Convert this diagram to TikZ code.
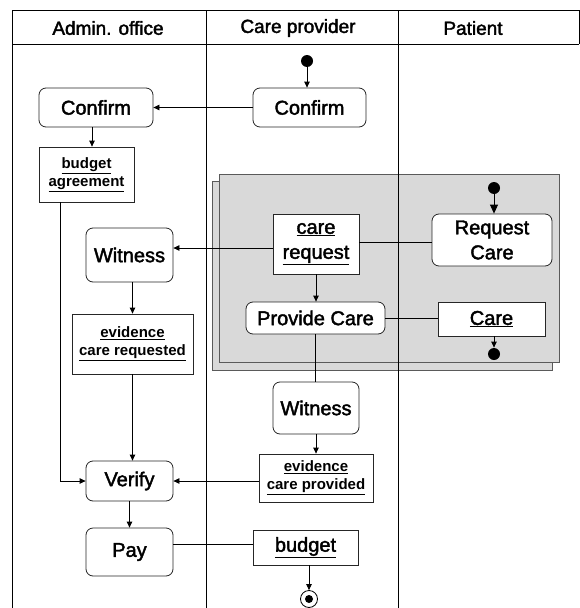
\documentclass[tikz,border=0pt]{standalone}
\usepackage{fontspec}
\setmainfont{Liberation Sans}
\newfontfamily\medfont{Liberation Sans}[FakeBold=2]
\usetikzlibrary{arrows.meta,calc}
\definecolor{regfill}{HTML}{D9D9D9}
\definecolor{regline}{HTML}{5A5A5A}
\begin{document}
\begin{tikzpicture}[x=1pt,y=-1pt, line width=0.8pt,
  act/.style={draw=black!85, rounded corners=7pt, fill=white, inner sep=0pt, align=center,
    font=\medfont\fontsize{20}{25}\selectfont},
  obj/.style={draw=black!85, fill=white, inner sep=0pt, align=center,
    font=\medfont\fontsize{20}{25}\selectfont},
  objs/.style={draw=black!85, fill=white, inner sep=0pt, align=center,
    font=\bfseries\fontsize{15}{18}\selectfont},
  arr/.style={-{Triangle[length=6pt,width=5.5pt]}},
  bigarr/.style={-{Triangle[length=9pt,width=8pt]}},
  hdr/.style={font=\medfont\fontsize{19}{22}\selectfont},
  dot/.style={circle, fill=black, minimum size=12pt, inner sep=0pt},
  region/.style={draw=regline, fill=regfill, line width=1pt},
  lane/.style={draw=black, line width=0.8pt},
]
\useasboundingbox (0,0) rectangle (580,608);
\fill[white] (0,0) rectangle (580,608);

% grey interruptible region
\draw[region] (212,181) rectangle (552,370);
\draw[region] (219,174) rectangle (559,362);

% swimlanes
\draw[lane] (12,612) -- (12,10) -- (579,10) -- (579,44);
\draw[lane] (12,44) -- (579,44);
\draw[lane] (206,10) -- (206,612);
\draw[lane] (398,10) -- (398,612);

\node[hdr] (h1) at (108,28) {Admin. office};
\node[hdr] (h2) at (298,28) {Care provider};
\node[hdr] (h3) at (473,28) {Patient};

% nodes
\node[dot] (s1) at (307,61) {};
\node[act, minimum width=113pt, minimum height=39pt] (cpc) at (309.5,107.5) {Confirm};
\node[act, minimum width=114pt, minimum height=39pt] (ac) at (96,107.5) {Confirm};
\node[objs, minimum width=95pt, minimum height=55pt] (ba) at (86.5,174.5) {\underline{budget}\\\underline{agreement}};
\node[act, minimum width=87pt, minimum height=54pt] (wa) at (129.5,255) {Witness};
\node[objs, minimum width=121pt, minimum height=60pt] (ecr) at (132.5,344) {\underline{evidence}\\\underline{care requested}};
\node[act, minimum width=87pt, minimum height=40pt] (ver) at (129.5,481) {Verify};
\node[act, minimum width=87pt, minimum height=48pt] (pay) at (129.5,552) {Pay};

\node[obj, minimum width=86pt, minimum height=60pt] (cr) at (316,244) {\underline{care}\\\underline{request}};
\node[act, minimum width=139pt, minimum height=32pt] (pc) at (315.5,318) {Provide Care};
\node[act, minimum width=120pt, minimum height=52pt] (rc) at (492,240) {Request\\Care};
\node[obj, minimum width=107pt, minimum height=34pt] (care) at (491.5,319) {\underline{Care}};
\node[dot] (s2) at (494,188) {};
\node[dot] (e2) at (494,354) {};

\node[act, minimum width=86pt, minimum height=52pt] (wc) at (316,408) {Witness};
\node[objs, minimum width=114pt, minimum height=48pt] (ecp) at (316,478) {\underline{evidence}\\\underline{care provided}};
\node[obj, minimum width=105pt, minimum height=35pt] (bud) at (305.5,547.5) {\underline{budget}};
\node[circle, draw, line width=0.8pt, minimum size=17pt, inner sep=0pt] (end) at (309,599) {};
\fill (end.center) circle (4pt);

% connectors
\draw[arr] (s1) -- (s1 |- cpc.north);
\draw[arr] (cpc.west) -- (ac.east);
\draw[arr] ([xshift=-4pt]ac.south) -- ([xshift=-4pt]ac.south |- ba.north);
\draw[arr] ([xshift=-26.5pt]ba.south) |- (ver.west);
\draw[arr] ([yshift=-4pt]cr.west) -- ([yshift=-4pt]cr.west -| wa.east);
\draw ([yshift=2pt]cr.east) -- ([yshift=2pt]cr.east -| rc.west);
\draw[bigarr] (s2) -- (s2 |- rc.north);
\draw[arr] (cr.south) -- (cr.south |- pc.north);
\draw (pc.east) -- (pc.east -| care.west);
\draw[arr] (e2 |- care.south) -- (e2.north);
\draw (pc.south) -- (pc.south |- wc.north);
\draw[arr] (wc.south) -- (wc.south |- ecp.north);
\draw[arr] (ver.east -| ecp.west) -- (ver.east);
\draw[arr] (ecr.north |- wa.south) -- (ecr.north);
\draw[arr] (ecr.south) -- (ecr.south |- ver.north);
\draw[arr] (ver.south) -- (ver.south |- pay.north);
\draw ([yshift=3.5pt]bud.west) -- ([yshift=3.5pt]bud.west -| pay.east);
\draw[arr] (end |- bud.south) -- (end.north);
\end{tikzpicture}
\end{document}
